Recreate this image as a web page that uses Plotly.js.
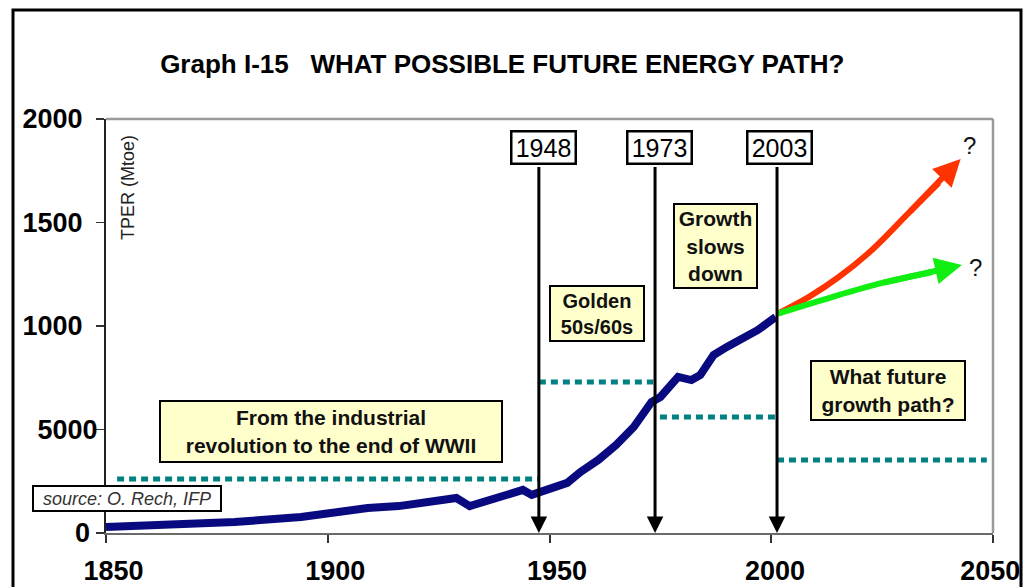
<!DOCTYPE html>
<html>
<head>
<meta charset="utf-8">
<script src="https://cdn.plot.ly/plotly-3.0.1.min.js"></script>
<style>html,body{margin:0;padding:0;background:#fff;}#chart{width:1025px;height:587px;}</style>
</head>
<body>
<div id="chart"></div>
<script>
// ---- data ----
const years = [1850,1864,1879,1894,1901,1909,1916,1924,1929,1932,1939,1944,1946,1948,1950,1954,1957,1961,1965,1969,1973,1975,1979,1982,1984,1987,1990,1994,1997,2001];
const tper  = [29,39,53,77,97,121,130,150,169,130,174,208,184,198,217,242,295,353,425,512,633,657,754,739,763,860,899,942,981,1043];

const highYears = [2001.5,2008.5,2015.3,2022.7,2031,2037.8];
const highPath  = [1060,1141,1238,1367,1546,1691];
const highTip   = [2042.7,1807];

const lowYears = [2001.5,2013.7,2025,2036.3];
const lowPath  = [1060,1140,1208,1261];
const lowTip   = [2043,1295];

const levelStart = [1852.5,1947.6,1974.9,2001.3];
const levelEnd   = [1947.4,1973.4,2001.1,2048.6];
const levelValue = [261,729,560,353];

const markerLabels = ['1948','1973','2003'];
const markerLineX  = [1947.6,1973.8,2001.3];
const markerBoxX   = [1948.65,1974.9,2001.97];

const xTickVals = [1850,1900,1950,2000,2050];
const xTickText = ['1850','1900','1950','2000','2050'];
const yTickVals = [0,500,1000,1500,2000];
const yTickText = ['0','5000','1000','1500','2000'];

// ---- presentation ----
const FONT = 'Liberation Sans, Arial, sans-serif';
const NB = '\u00A0';
const yPad = [1,0,2,2,2];
const xLead = [NB+NB, NB+NB, NB+NB, NB, ''];
const xTrail = ['', '', '', '', '\u2009'];

const traces = [];
levelValue.forEach((v,i)=>{
  traces.push({x:[levelStart[i],levelEnd[i]], y:[v,v], mode:'lines', type:'scatter',
    line:{color:'#008080', width:5, dash:'7px,5px'}, hoverinfo:'skip'});
});
traces.push({x:years, y:tper, mode:'lines', type:'scatter', line:{color:'#0A0A80', width:8}, hoverinfo:'skip'});
traces.push({x:highYears, y:highPath, mode:'lines', type:'scatter', line:{color:'#FF3300', width:6, shape:'spline'}, hoverinfo:'skip'});
traces.push({x:lowYears, y:lowPath, mode:'lines', type:'scatter', line:{color:'#11EE11', width:6, shape:'spline'}, hoverinfo:'skip'});

const ann = [];
// vertical year arrows
markerLineX.forEach((x)=>{
  ann.push({x:x, y:0, ax:x, ay:1778, xref:'x', yref:'y', axref:'x', ayref:'y', text:' ',
    font:{size:1}, showarrow:true, arrowhead:2, arrowsize:1.1, arrowwidth:3, arrowcolor:'#000', standoff:0});
});
// future arrow heads
const hi = highYears.length-1, lo = lowYears.length-1;
ann.push({x:highTip[0], y:highTip[1], ax:highYears[hi-1], ay:highPath[hi-1],
  xref:'x', yref:'y', axref:'x', ayref:'y', text:' ', font:{size:1}, showarrow:true,
  arrowhead:2, arrowsize:0.9, arrowwidth:6, arrowcolor:'#FF3300', standoff:0});
ann.push({x:lowTip[0], y:lowTip[1], ax:lowYears[lo-1], ay:lowPath[lo-1],
  xref:'x', yref:'y', axref:'x', ayref:'y', text:' ', font:{size:1}, showarrow:true,
  arrowhead:2, arrowsize:0.9, arrowwidth:6, arrowcolor:'#11EE11', standoff:0});
// year label boxes
markerLabels.forEach((t,i)=>{
  ann.push({x:markerBoxX[i], y:1862, xref:'x', yref:'y', text:t, showarrow:false,
    font:{family:FONT, size:25, color:'#000'}, bgcolor:'#fff', bordercolor:'#000', borderwidth:2.5,
    borderpad:0, width:62, height:30});
});
const yellow = '#FFFFCC';
const boxFont = {family:FONT, size:21, color:'#111', weight:'bold'};
ann.push({x:1900.73, y:490, xref:'x', yref:'y', text:'From the industrial<br>revolution to the end of WWII',
  showarrow:false, font:boxFont, bgcolor:yellow, bordercolor:'#000', borderwidth:2, borderpad:0, width:340, height:59});
ann.push({x:1960.7, y:1060, xref:'x', yref:'y', text:'Golden<br>50s/60s', showarrow:false,
  font:{family:FONT, size:20, color:'#111', weight:'bold'},
  bgcolor:yellow, bordercolor:'#000', borderwidth:2, borderpad:0, width:92, height:53});
ann.push({x:1987.4, y:1386, xref:'x', yref:'y', text:'Growth<br>slows<br>down', showarrow:false, font:boxFont,
  bgcolor:yellow, bordercolor:'#000', borderwidth:2, borderpad:0, width:81, height:82});
ann.push({x:2026.3, y:688, xref:'x', yref:'y', text:'What future<br>growth path?', showarrow:false, font:boxFont,
  bgcolor:yellow, bordercolor:'#000', borderwidth:2, borderpad:0, width:152, height:57});
ann.push({x:1854.7, y:167, xref:'x', yref:'y', text:'source: O. Rech, IFP', showarrow:false,
  font:{family:FONT, size:18, color:'#333', style:'italic'}, bgcolor:'#fff', bordercolor:'#000', borderwidth:2,
  borderpad:0, width:186, height:23});
ann.push({x:2044.8, y:1874, xref:'x', yref:'y', text:'?', showarrow:false, font:{family:FONT, size:24, color:'#111'}});
ann.push({x:2046, y:1285, xref:'x', yref:'y', text:'?', showarrow:false, font:{family:FONT, size:24, color:'#111'}});
ann.push({x:1854.85, y:1669, xref:'x', yref:'y', text:'TPER (Mtoe)', textangle:-90, showarrow:false,
  font:{family:FONT, size:18, color:'#222'}});

const layout = {
  width:1025, height:587,
  margin:{l:106, r:32, t:119, b:54},
  paper_bgcolor:'#fff', plot_bgcolor:'#fff',
  showlegend:false,
  font:{family:FONT, color:'#000'},
  title:{text:'Graph I-15'+NB+NB+NB+'WHAT POSSIBLE FUTURE ENERGY PATH?', x:0.49, xanchor:'center',
    y:1-64/587, yanchor:'middle', yref:'container', font:{family:FONT, size:26, weight:'bold', color:'#000'}},
  xaxis:{range:[1850,2050], tickvals:xTickVals, ticktext:xTickText.map((t,i)=>xLead[i]+t+xTrail[i]),
    showgrid:false, zeroline:false, showline:true, linecolor:'#6a6a6a', linewidth:2,
    ticks:'outside', ticklen:8, tickwidth:2, tickcolor:'#333', ticklabelstandoff:5,
    ticklabeloverflow:'allow',
    tickfont:{family:FONT, size:27, weight:'bold', color:'#000'}, fixedrange:true},
  yaxis:{range:[0,2000], tickvals:yTickVals, ticktext:yTickText.map((t,i)=>t+NB.repeat(yPad[i])),
    showgrid:false, zeroline:false, showline:true, linecolor:'#222', linewidth:2,
    ticks:'outside', ticklen:8, tickwidth:1.5, tickcolor:'#333', ticklabelstandoff:-7,
    tickfont:{family:FONT, size:27, weight:'bold', color:'#000'}, fixedrange:true},
  shapes:[
    {type:'line', xref:'paper', yref:'paper', x0:0, x1:1, y0:1, y1:1, line:{color:'#9a9a9a', width:2.5}},
    {type:'line', xref:'paper', yref:'paper', x0:1, x1:1, y0:0, y1:1, line:{color:'#9a9a9a', width:2.5}},
    {type:'rect', xref:'paper', yref:'paper', x0:(13-106)/887, x1:(1021-106)/887, y0:(533-620)/414, y1:(533-10)/414,
      line:{color:'#000', width:3}, fillcolor:'rgba(0,0,0,0)'}
  ],
  annotations:ann
};
Plotly.newPlot('chart', traces, layout, {displayModeBar:false, staticPlot:true});
</script>
</body>
</html>
